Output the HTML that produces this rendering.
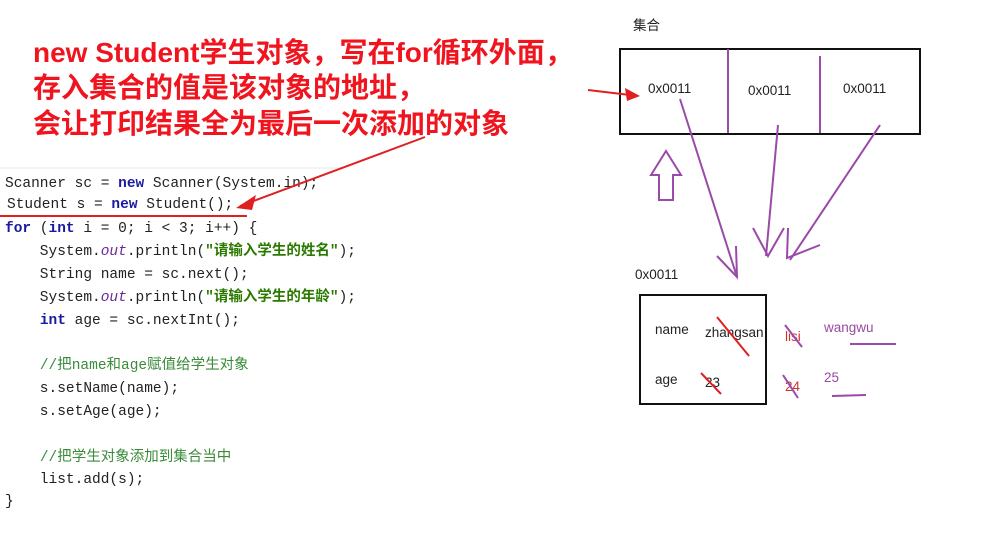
<!DOCTYPE html>
<html><head><meta charset="utf-8"><style>
body{margin:0;width:986px;height:543px;background:#fff;overflow:hidden;position:relative}
.h{position:absolute;left:33px;color:#f0141e;font:bold 28px "Liberation Sans","Noto Sans CJK SC",sans-serif;white-space:nowrap}
.c{position:absolute;left:5px;font:14.5px "Liberation Mono","Noto Sans CJK SC",monospace;color:#222;white-space:pre;line-height:20px}
.k{color:#1a1aa0;font-weight:bold}.s{color:#2a7a00;font-weight:bold}.m{color:#3a8a3a}.o{color:#6a2aa0;font-style:italic}
.t{position:absolute;font:13.5px "Liberation Sans","Noto Sans CJK SC",sans-serif;color:#222;white-space:nowrap}
</style></head><body>
<div class="h" style="top:31px">new Student学生对象，写在for循环外面，</div>
<div class="h" style="top:66px">存入集合的值是该对象的地址，</div>
<div class="h" style="top:102px">会让打印结果全为最后一次添加的对象</div>
<div style="position:absolute;left:0;top:167px;width:340px;height:2px;background:#f4f4f4"></div>
<div class="c" style="top:174px">Scanner sc = <span class="k">new</span> Scanner(System.in);</div>
<div class="c" style="top:195px;left:7px">Student s = <span class="k">new</span> Student();</div>
<div class="c" style="top:219px"><span class="k">for</span> (<span class="k">int</span> i = 0; i &lt; 3; i++) {</div>
<div class="c" style="top:242px">    System.<span class="o">out</span>.println(<span class="s">"请输入学生的姓名"</span>);</div>
<div class="c" style="top:265px">    String name = sc.next();</div>
<div class="c" style="top:288px">    System.<span class="o">out</span>.println(<span class="s">"请输入学生的年龄"</span>);</div>
<div class="c" style="top:311px">    <span class="k">int</span> age = sc.nextInt();</div>
<div class="c" style="top:356px">    <span class="m">//把name和age赋值给学生对象</span></div>
<div class="c" style="top:379px">    s.setName(name);</div>
<div class="c" style="top:402px">    s.setAge(age);</div>
<div class="c" style="top:448px">    <span class="m">//把学生对象添加到集合当中</span></div>
<div class="c" style="top:470px">    list.add(s);</div>
<div class="c" style="top:492px">}</div>

<div class="t" style="left:633px;top:14px">集合</div>
<div class="t" style="left:648px;top:81px">0x0011</div>
<div class="t" style="left:748px;top:83px">0x0011</div>
<div class="t" style="left:843px;top:81px">0x0011</div>
<div class="t" style="left:635px;top:267px">0x0011</div>
<div class="t" style="left:655px;top:322px">name</div>
<div class="t" style="left:705px;top:325px">zhangsan</div>
<div class="t" style="left:655px;top:372px">age</div>
<div class="t" style="left:705px;top:375px">23</div>
<div class="t" style="left:785px;top:329px;color:#d03030">lisi</div>
<div class="t" style="left:785px;top:379px;color:#d03030">24</div>
<div class="t" style="left:824px;top:320px;color:#9a4aa0">wangwu</div>
<div class="t" style="left:824px;top:370px;color:#9a4aa0">25</div>

<svg width="986" height="543" style="position:absolute;left:0;top:0" fill="none">
<rect x="620" y="49" width="300" height="85" stroke="#111" stroke-width="2"/>
<line x1="728" y1="49" x2="728" y2="133" stroke="#9a4aa8" stroke-width="2"/>
<line x1="820" y1="56" x2="820" y2="133" stroke="#9a4aa8" stroke-width="2"/>
<rect x="640" y="295" width="126" height="109" stroke="#111" stroke-width="2"/>
<g stroke="#9a4aa8" stroke-width="2">
<line x1="680" y1="99" x2="737" y2="277"/><polyline points="717,256 737,277 736,246"/>
<line x1="778" y1="125" x2="766" y2="256"/><polyline points="753,228 768,256 784,228"/>
<line x1="880" y1="125" x2="790" y2="260"/><polyline points="788,228 787,258 820,245"/>
<path d="M666,151 L681,175 L673,175 L673,200 L659,200 L659,175 L651,175 Z"/>
<line x1="785" y1="325" x2="802" y2="347"/><line x1="783" y1="375" x2="798" y2="398"/>
<line x1="850" y1="344" x2="896" y2="344"/><line x1="832" y1="396" x2="866" y2="395"/>
</g>
<g stroke="#e02020" stroke-width="2">
<line x1="717" y1="317" x2="749" y2="356"/><line x1="701" y1="373" x2="721" y2="394"/>
<line x1="0" y1="216" x2="247" y2="216"/>
<line x1="425" y1="137" x2="240" y2="206"/>
<line x1="588" y1="90" x2="630" y2="95"/>
</g>
<polygon points="236,208 256,195 252,210" fill="#e02020"/>
<polygon points="640,96 625,88 627,101" fill="#e02020"/>
</svg>
</body></html>
